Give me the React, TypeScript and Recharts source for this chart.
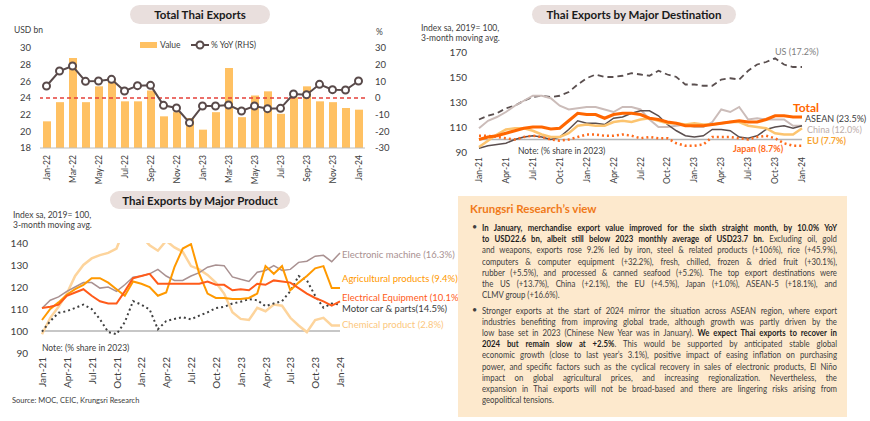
import React from 'react'
import { ComposedChart, LineChart, Bar, Line, XAxis, YAxis, ReferenceLine } from 'recharts'

const MONTHS = [
    'Jan-21', 'Feb-21', 'Mar-21', 'Apr-21', 'May-21', 'Jun-21', 'Jul-21', 'Aug-21', 'Sep-21', 'Oct-21', 'Nov-21', 'Dec-21',
    'Jan-22', 'Feb-22', 'Mar-22', 'Apr-22', 'May-22', 'Jun-22', 'Jul-22', 'Aug-22', 'Sep-22', 'Oct-22', 'Nov-22', 'Dec-22',
    'Jan-23', 'Feb-23', 'Mar-23', 'Apr-23', 'May-23', 'Jun-23', 'Jul-23', 'Aug-23', 'Sep-23', 'Oct-23', 'Nov-23', 'Dec-23',
    'Jan-24',
]
const EXPORT_MONTHS = MONTHS.slice(12)

// Total Thai exports, USD bn and % YoY
const EXPORT_VALUE = [21.2, 23.5, 28.8, 23.5, 25.4, 26.1, 23.6, 23.6, 24.9, 21.8, 22.3, 21.6, 20.2, 22.3, 27.6, 21.7, 24.3, 24.8, 22.1, 24.1, 25.4, 23.6, 23.5, 22.8, 22.6]
const EXPORT_YOY = [7.2, 16.2, 19.2, 10, 10.2, 11.2, 4.2, 7.4, 7.6, -4.4, -6, -14.8, -4.8, -4.8, -4.2, -7.8, -4.8, -6.4, -6.2, 2.4, 2, 8.2, 5, 4.8, 10.2]

// by destination, index sa 2019=100
const DEST_US = [116, 119, 121, 125, 127, 131, 134, 135, 134, 135, 138, 144, 149, 152, 150, 150, 151, 153, 152, 151, 155, 152, 150, 144, 144, 143, 143, 148, 149, 148, 155, 160, 162, 165, 160, 158, 158]
const DEST_CHINA = [109, 115, 118, 122, 127, 131, 135, 135, 133, 127, 124, 125, 126, 126, 124, 122, 126, 126, 124, 116, 110, 110, 111, 112, 110, 110, 114, 124, 122, 126, 116, 117, 116, 116, 116, 111, 111]
const DEST_ASEAN = [93, 95, 96, 97, 100, 102, 103, 102, 100, 102, 108, 115, 113, 113, 112, 117, 118, 121, 123, 123, 119, 112, 107, 103, 102, 103, 108, 108, 107, 102, 101, 103, 108, 110, 111, 109, 111]
const DEST_TOTAL = [100, 102, 103, 105, 107, 109, 110, 110, 108.5, 109, 115, 121, 120, 120, 117, 120, 121, 121, 120, 117, 116, 114, 113, 111, 111, 111, 112, 113, 114, 115, 114, 114, 116, 119, 119, 118, 118]
const DEST_EU = [94, 99, 104, 108, 109, 109, 107, 104, 102, 102, 105, 111, 112, 111, 111, 114, 115, 114, 116, 117, 115, 113, 113, 112, 113, 112, 112, 113, 114, 114, 111, 110, 109, 105, 104, 104, 109]
const DEST_JAPAN = [103, 103, 102, 101, 100, 102, 103, 102, 100, 99, 100, 102, 104, 104, 103, 103, 104, 103, 101, 102, 101, 101, 97, 95, 95, 96, 102, 102, 102, 101, 100, 102, 103, 101, 97, 95, 95]

// by product, index sa 2019=100
const PROD_ELECTRONIC = [110.3, 114, 115.5, 118, 120, 122, 122, 119.5, 120, 118, 121, 124.5, 125, 126, 128, 125, 123, 123, 125, 126.5, 129, 130, 129.7, 124.6, 123.5, 122.5, 126.7, 127.5, 129.7, 127.5, 128, 131.2, 131.7, 134, 134.4, 131.5, 135.5]
const PROD_AGRI = [105, 110, 113, 116.5, 119, 121, 124, 124, 122, 119, 116, 122.5, 121.5, 120, 116, 117.5, 129, 137.5, 139.5, 126, 117, 115, 115, 114.5, 114.5, 115, 117, 129.5, 126, 129.5, 118.5, 122, 125, 128.5, 129.5, 119.5, 119.5]
const PROD_ELEC_EQUIP = [110.5, 111, 112, 116, 117.5, 119, 116, 113.5, 112.5, 112.5, 118, 124, 125, 126, 121.5, 121.5, 121.5, 121.5, 121.5, 121.5, 122.5, 121, 121, 118.5, 119, 118.5, 121.5, 121, 123, 122.5, 122, 119.5, 117, 115, 113.5, 111.5, 113.5]
const PROD_MOTOR = [99.7, 104.5, 108.3, 109, 110.5, 112, 110, 105.3, 99.5, 98.5, 104, 113.6, 112, 109.8, 100.8, 104.5, 105.5, 106.3, 105.3, 107, 108.5, 110.4, 111, 112.5, 113.3, 114.5, 114, 111.3, 112.5, 113.6, 118.1, 125, 123, 116, 110.6, 112.5, 112]
const PROD_CHEMICAL = [98.5, 106, 111, 117, 125, 130, 133, 134.5, 135.5, 137.5, 147, 150, 143, 139, 136.5, 141, 138, 136, 129.5, 128, 125.5, 122, 117, 108.5, 105.5, 105, 110.5, 109, 112, 111.5, 106, 102.5, 99.5, 105, 106, 102.5, 102.5]

const VIEW_P1: [string, boolean][][] = [
    [['In January, merchandise export value improved for the sixth straight month, by 10.0% YoY', true]],
    [['to USD22.6 bn, albeit still below 2023 monthly average of USD23.7 bn.', true], [' Excluding oil, gold', false]],
    [['and weapons, exports rose 9.2% led by iron, steel & related products (+106%), rice (+45.9%),', false]],
    [['computers & computer equipment (+32.2%), fresh, chilled, frozen & dried fruit (+30.1%),', false]],
    [['rubber (+5.5%), and processed & canned seafood (+5.2%). The top export destinations were', false]],
    [['the US (+13.7%), China (+2.1%), the EU (+4.5%), Japan (+1.0%), ASEAN-5 (+18.1%), and', false]],
    [['CLMV group (+16.6%).', false]],
]
const VIEW_P2: [string, boolean][][] = [
    [['Stronger exports at the start of 2024 mirror the situation across ASEAN region, where export', false]],
    [['industries benefiting from improving global trade, although growth was partly driven by the', false]],
    [['low base set in 2023 (Chinese New Year was in January). ', false], ['We expect Thai exports to recover in', true]],
    [['2024 but remain slow at +2.5%', true], ['. This would be supported by anticipated stable global', false]],
    [['economic growth (close to last year\u2019s 3.1%), positive impact of easing inflation on purchasing', false]],
    [['power, and specific factors such as the cyclical recovery in sales of electronic products, El Ni\u00f1o', false]],
    [['impact on global agricultural prices, and increasing regionalization. Nevertheless, the', false]],
    [['expansion in Thai exports will not be broad-based and there are lingering risks arising from', false]],
    [['geopolitical tensions.', false]],
]

const TXT = '#404040'

function RotTick(props: any) {
    const { x, y, payload, fontSize } = props
    return (
        <text x={x} y={y} transform={`rotate(-90 ${x} ${y})`} textAnchor='end'
            dominantBaseline='central' fontSize={fontSize} fill={TXT}>
            {payload.value}
        </text>
    )
}

function Pill({ x, y, w, h, text }: { x: number, y: number, w: number, h: number, text: string }) {
    return (
        <div style={{
            position: 'absolute', left: x, top: y, width: w, height: h, borderRadius: h / 2,
            background: '#e9dfdd', fontWeight: 700, fontSize: 11.5, color: '#1a1a1a',
            display: 'flex', alignItems: 'center', justifyContent: 'center',
        }}>{text}</div>
    )
}

function Label({ x, y, text, color = TXT, size = 9, bold = false }:
    { x: number, y: number, text: string, color?: string, size?: number, bold?: boolean }) {
    return (
        <div style={{
            position: 'absolute', left: x, top: y - size * 0.6, fontSize: size, lineHeight: `${size * 1.2}px`,
            color, fontWeight: bold ? 700 : 400, whiteSpace: 'nowrap',
        }}>{text}</div>
    )
}

function ViewLines({ lines, top }: { lines: [string, boolean][][], top: number }) {
    const scale = 0.79
    return (
        <>
            <div style={{ position: 'absolute', left: 14, top: top - 1, fontSize: 9, color: TXT }}>{'\u2022'}</div>
            {lines.map((segs, i) => (
                <div key={i} style={{
                    position: 'absolute', left: 24, top: top + i * 11.2, width: 355 / scale,
                    transform: `scaleX(${scale})`, transformOrigin: 'left top',
                    fontSize: 9.9, lineHeight: '11px', color: TXT, textAlign: 'justify',
                    textAlignLast: i === lines.length - 1 ? 'left' : 'justify',
                }}>
                    {segs.map(([t, b], j) => (
                        <span key={j} style={{ fontWeight: b ? 700 : 400, color: b ? '#1f1f1f' : TXT }}>{t}</span>
                    ))}
                </div>
            ))}
        </>
    )
}

export default function App() {
    const exportData = EXPORT_MONTHS.map((m, i) => ({ month: m, value: EXPORT_VALUE[i], yoy: EXPORT_YOY[i] }))
    const destData = MONTHS.map((m, i) => ({
        month: m, us: DEST_US[i], china: DEST_CHINA[i], asean: DEST_ASEAN[i],
        total: DEST_TOTAL[i], eu: DEST_EU[i], japan: DEST_JAPAN[i],
    }))
    const prodData = MONTHS.map((m, i) => ({
        month: m, electronic: PROD_ELECTRONIC[i], agri: PROD_AGRI[i], elec: PROD_ELEC_EQUIP[i],
        motor: PROD_MOTOR[i], chemical: PROD_CHEMICAL[i],
    }))
    const tickStyle = { fontSize: 9.5, fill: TXT }

    return (
        <div style={{
            position: 'absolute', left: 0, top: 0, width: 870, height: 421, background: '#fff',
            fontFamily: 'Lato, "Open Sans", sans-serif', color: TXT, overflow: 'hidden',
        }}>
            {/* Total Thai Exports */}
            <Pill x={130} y={5} w={140} h={19} text='Total Thai Exports' />
            <Label x={14} y={30} text='USD bn' size={8.5} />
            <Label x={376} y={32} text='%' size={8.5} />
            <div style={{ position: 'absolute', left: 140, top: 42, width: 17, height: 6, background: '#ffc163' }} />
            <Label x={160} y={45} text='Value' size={8.5} />
            <svg style={{ position: 'absolute', left: 190, top: 39 }} width={20} height={12}>
                <line x1={1} y1={6} x2={19} y2={6} stroke='#594a4a' strokeWidth={2} />
                <circle cx={10} cy={6} r={3.5} fill='#fff' stroke='#594a4a' strokeWidth={2} />
            </svg>
            <Label x={211} y={45} text='% YoY (RHS)' size={8.5} />
            <div style={{ position: 'absolute', left: 0, top: 0 }}>
                <ComposedChart width={430} height={190} data={exportData}
                    margin={{ top: 48, right: 0, bottom: 0, left: 0 }}>
                    <XAxis dataKey='month' interval={1} height={42} tickLine={false}
                        axisLine={{ stroke: '#bfbfbf' }} tickMargin={1}
                        tick={(p: any) => <RotTick {...p} fontSize={8.5} />} />
                    <YAxis yAxisId='l' domain={[18, 30]} ticks={[18, 20, 22, 24, 26, 28, 30]} width={40}
                        axisLine={false} tickLine={false} tickMargin={3} tick={tickStyle} />
                    <YAxis yAxisId='r' orientation='right' domain={[-30, 30]} ticks={[-30, -20, -10, 0, 10, 20, 30]}
                        width={65} axisLine={false} tickLine={false} tickMargin={4} tick={tickStyle} />
                    <Bar yAxisId='l' dataKey='value' fill='#ffc163' barSize={8} isAnimationActive={false} />
                    <ReferenceLine yAxisId='r' y={0} stroke='#e5403a' strokeDasharray='4 3' strokeWidth={1.5} />
                    <Line yAxisId='r' dataKey='yoy' type='linear' stroke='#594a4a' strokeWidth={2}
                        dot={{ r: 3.5, fill: '#fff', stroke: '#594a4a', strokeWidth: 2 }} isAnimationActive={false} />
                </ComposedChart>
            </div>

            {/* Thai Exports by Major Destination */}
            <Pill x={532} y={5} w={204} h={19} text='Thai Exports by Major Destination' />
            <Label x={421} y={28} text='Index sa, 2019= 100,' size={8.5} />
            <Label x={421} y={38.5} text='3-month moving avg.' size={8.5} />
            <div style={{ position: 'absolute', left: 430, top: 0 }}>
                <LineChart width={440} height={190} data={destData} margin={{ top: 52, right: 68, bottom: 0, left: 0 }}>
                    <XAxis dataKey='month' interval={2} height={38} tickLine={false} axisLine={false} tickMargin={-1}
                        tick={(p: any) => <RotTick {...p} fontSize={8.5} />} />
                    <YAxis domain={[90, 170]} ticks={[90, 110, 130, 150, 170]} width={49}
                        axisLine={false} tickLine={false} tickMargin={6} tick={{ fontSize: 10, fill: TXT }} />
                    <ReferenceLine y={100} stroke='#b5b5b5' strokeWidth={1.5} />
                    <Line dataKey='us' type='linear' stroke='#5a4f4f' strokeWidth={1.8} strokeDasharray='6 4' dot={false} isAnimationActive={false} />
                    <Line dataKey='china' type='linear' stroke='#cbbcb9' strokeWidth={2} dot={false} isAnimationActive={false} />
                    <Line dataKey='asean' type='linear' stroke='#5a4e4e' strokeWidth={1.5} dot={false} isAnimationActive={false} />
                    <Line dataKey='eu' type='linear' stroke='#fcc46f' strokeWidth={2.5} dot={false} isAnimationActive={false} />
                    <Line dataKey='japan' type='linear' stroke='#ff6a1a' strokeWidth={2.5} strokeDasharray='2 3' dot={false} isAnimationActive={false} />
                    <Line dataKey='total' type='linear' stroke='#ff6600' strokeWidth={3} dot={false} isAnimationActive={false} />
                </LineChart>
            </div>
            <Label x={518} y={151} text='Note: (% share in 2023)' size={8.5} />
            <Label x={775} y={52} text='US (17.2%)' size={9} color='#808080' />
            <Label x={793} y={108} text='Total' size={12} color='#ff6600' bold />
            <Label x={805} y={119.5} text='ASEAN (23.5%)' size={9} color='#404040' />
            <Label x={807} y={130} text='China (12.0%)' size={9} color='#bcaeab' />
            <Label x={807} y={141.5} text='EU (7.7%)' size={9} color='#f7a430' bold />
            <Label x={733} y={149} text='Japan (8.7%)' size={9} color='#ff6a1a' bold />

            {/* Thai Exports by Major Product */}
            <Pill x={110} y={191} w={180} h={18} text='Thai Exports by Major Product' />
            <Label x={13} y={215} text='Index sa, 2019= 100,' size={8.5} />
            <Label x={13} y={225} text='3-month moving avg.' size={8.5} />
            <div style={{ position: 'absolute', left: 0, top: 190 }}>
                <LineChart width={440} height={231} data={prodData} margin={{ top: 53, right: 100, bottom: 0, left: 0 }}>
                    <XAxis dataKey='month' interval={2} height={68} tickLine={false} axisLine={false} tickMargin={-2}
                        tick={(p: any) => <RotTick {...p} fontSize={10} />} />
                    <YAxis domain={[90, 140]} allowDataOverflow ticks={[90, 100, 110, 120, 130, 140]} width={42}
                        axisLine={false} tickLine={false} tickMargin={8} tick={{ fontSize: 10, fill: TXT }} />
                    <ReferenceLine y={100} stroke='#b5b5b5' strokeWidth={1.5} />
                    <Line dataKey='chemical' type='linear' stroke='#fdd49c' strokeWidth={2.5} dot={false} isAnimationActive={false} />
                    <Line dataKey='electronic' type='linear' stroke='#a99191' strokeWidth={1.5} dot={false} isAnimationActive={false} />
                    <Line dataKey='motor' type='linear' stroke='#404040' strokeWidth={2} strokeDasharray='2 3' dot={false} isAnimationActive={false} />
                    <Line dataKey='agri' type='linear' stroke='#ff9900' strokeWidth={2} dot={false} isAnimationActive={false} />
                    <Line dataKey='elec' type='linear' stroke='#ff5b1a' strokeWidth={2} dot={false} isAnimationActive={false} />
                </LineChart>
            </div>
            <Label x={42} y={348} text='Note: (% share in 2023)' size={8.5} />
            <Label x={342} y={255} text='Electronic machine (16.3%)' size={9.5} color='#a99191' />
            <Label x={342} y={279} text='Agricultural products (9.4%)' size={9.5} color='#ff9900' />
            <Label x={342} y={297.5} text='Electrical Equipment (10.1%)' size={9.5} color='#ff5b1a' />
            <Label x={342} y={308.5} text='Motor car & parts(14.5%)' size={9.5} color='#404040' />
            <Label x={342} y={325} text='Chemical product (2.8%)' size={9.5} color='#fcc77d' />
            <Label x={12} y={400} text='Source: MOC, CEIC, Krungsri Research' size={7.5} />

            {/* Krungsri Research's view */}
            <div style={{ position: 'absolute', left: 458, top: 196, width: 389, height: 221, background: '#fde9cd' }}>
                <div style={{ position: 'absolute', left: 12, top: 6, fontSize: 11.5, fontWeight: 700, color: '#f07a1a' }}>
                    Krungsri Research{'\u2019'}s view
                </div>
                <ViewLines lines={VIEW_P1} top={26} />
                <ViewLines lines={VIEW_P2} top={108.5} />
            </div>
        </div>
    )
}
